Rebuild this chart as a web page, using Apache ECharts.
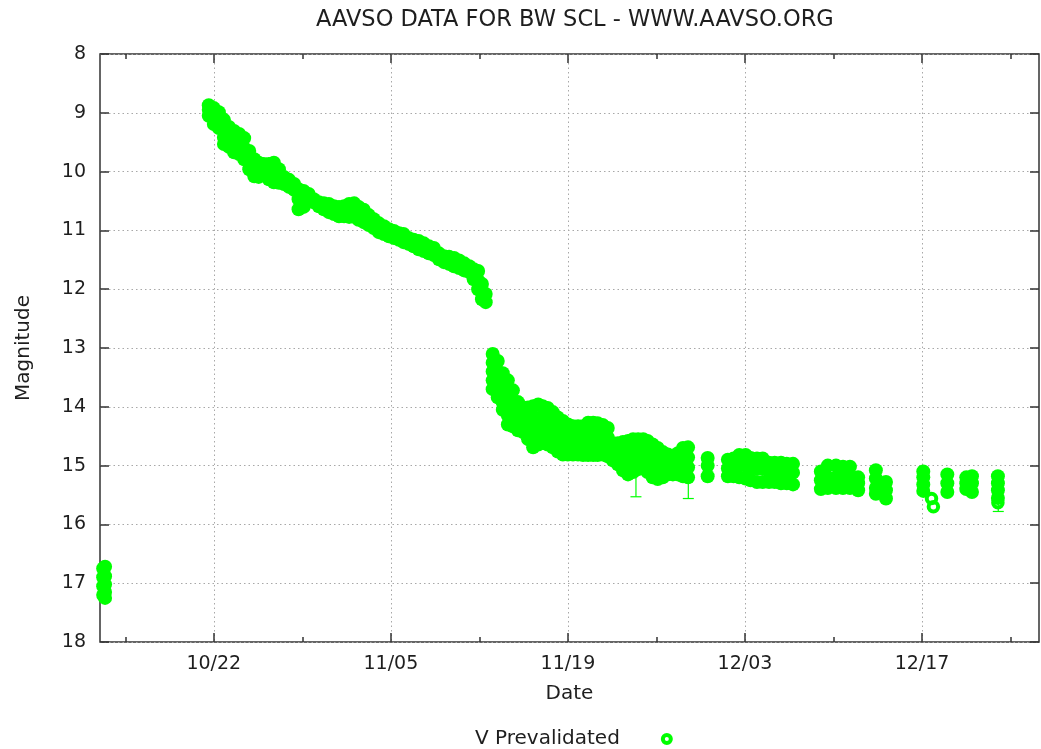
<!DOCTYPE html>
<html>
<head>
<meta charset="utf-8">
<script src="https://cdn.jsdelivr.net/npm/echarts@6/dist/echarts.min.js"></script>
<style>html,body{margin:0;padding:0;background:#fff}#c{width:1041px;height:749px}</style>
</head>
<body>
<div id="c"></div>
<script>
// x values are day numbers counted from Oct 0 (Oct 22 = 22, Nov 5 = 36, Dec 3 = 64 ...)
const tickDays = [22, 36, 50, 64, 78];
const tickLabels = ['10/22', '11/05', '11/19', '12/03', '12/17'];
const minorTickDays = [15, 29, 43, 57, 71, 85];
const dayMin = 13.0, dayMax = 87.25;
const magMin = 8, magMax = 18;

// each row: [day, mag, mag, ...] (observations of one time slice)
const quiescence = [
  [13.25, 16.75, 16.9, 17.05, 17.2],
  [13.4, 16.72, 16.88, 17.02, 17.15, 17.25]
];
const declineBand = [
  [21.6, 8.87, 8.95, 9.05], [22.0, 8.92, 9.05, 9.19], [22.4, 8.99, 9.12, 9.26],
  [22.8, 9.12, 9.28, 9.42, 9.53], [23.2, 9.24, 9.4, 9.58], [23.6, 9.31, 9.5, 9.67],
  [24.0, 9.36, 9.53, 9.70], [24.4, 9.43, 9.6, 9.79], [24.8, 9.65, 9.8, 9.96],
  [25.2, 9.79, 9.94, 10.08], [25.55, 9.85, 9.97, 10.09], [25.95, 9.87, 10.02],
  [26.35, 9.87, 10.0, 10.13], [26.75, 9.85, 10.0, 10.18], [27.15, 9.96, 10.08, 10.19],
  [27.55, 10.09, 10.21], [27.95, 10.14, 10.26], [28.35, 10.21, 10.31],
  [28.7, 10.30, 10.47, 10.64], [29.1, 10.33, 10.47, 10.60], [29.5, 10.38, 10.47],
  [29.9, 10.47, 10.52], [30.3, 10.52, 10.59], [30.7, 10.54, 10.64],
  [31.1, 10.55, 10.69], [31.5, 10.59, 10.72], [31.9, 10.60, 10.76],
  [32.3, 10.59, 10.68, 10.76], [32.7, 10.55, 10.66, 10.77], [33.1, 10.54, 10.66, 10.77],
  [33.45, 10.60, 10.71, 10.82], [33.85, 10.65, 10.75, 10.86], [34.25, 10.74, 10.91],
  [34.65, 10.81, 10.96], [35.05, 10.88, 11.03], [35.45, 10.93, 11.06],
  [35.85, 10.98, 11.10], [36.25, 11.01, 11.13], [36.65, 11.05, 11.16],
  [37.0, 11.06, 11.20], [37.4, 11.13, 11.23], [37.8, 11.16, 11.27],
  [38.2, 11.18, 11.32], [38.6, 11.22, 11.35], [39.0, 11.27, 11.39],
  [39.4, 11.30, 11.42], [39.8, 11.39, 11.49], [40.2, 11.44, 11.54],
  [40.6, 11.45, 11.57], [41.0, 11.47, 11.61], [41.4, 11.51, 11.64],
  [41.8, 11.56, 11.68], [42.2, 11.61, 11.71], [42.55, 11.66, 11.83],
  [42.9, 11.69, 11.85, 12.00], [43.2, 11.91, 12.05, 12.17], [43.5, 12.08, 12.22]
];
const postDropBand = [
  [44.05, 13.10, 13.25, 13.40, 13.55, 13.70], [44.45, 13.22, 13.4, 13.6, 13.72, 13.84],
  [44.85, 13.43, 13.6, 13.8, 13.93, 14.05], [45.25, 13.55, 13.75, 13.95, 14.15, 14.30],
  [45.65, 13.72, 13.9, 14.1, 14.22, 14.33], [46.05, 13.92, 14.1, 14.25, 14.40],
  [46.45, 14.01, 14.2, 14.32, 14.43], [46.85, 14.01, 14.2, 14.38, 14.55],
  [47.25, 13.99, 14.17, 14.35, 14.52, 14.69], [47.65, 13.96, 14.2, 14.4, 14.52, 14.64],
  [48.0, 13.99, 14.2, 14.4, 14.58], [48.4, 14.02, 14.13, 14.25, 14.45, 14.64],
  [48.8, 14.09, 14.3, 14.5, 14.69], [49.2, 14.18, 14.4, 14.6, 14.76],
  [49.6, 14.24, 14.45, 14.65, 14.81], [50.0, 14.30, 14.5, 14.65, 14.81],
  [50.4, 14.33, 14.5, 14.66, 14.81], [50.8, 14.33, 14.5, 14.66, 14.81],
  [51.2, 14.33, 14.5, 14.66, 14.82], [51.6, 14.27, 14.45, 14.64, 14.82],
  [52.0, 14.27, 14.45, 14.64, 14.82], [52.35, 14.28, 14.46, 14.64, 14.82],
  [52.75, 14.31, 14.48, 14.65, 14.81], [53.15, 14.36, 14.52, 14.68, 14.84],
  [53.55, 14.62, 14.77, 14.91], [53.95, 14.62, 14.8, 14.98],
  [54.35, 14.60, 14.76, 14.92, 15.08], [54.75, 14.58, 14.77, 14.96, 15.15],
  [55.15, 14.55, 14.74, 14.93, 15.11], [55.55, 14.55, 14.72, 14.89, 15.06],
  [55.95, 14.55, 14.71, 14.87, 15.03], [56.3, 14.58, 14.76, 14.94, 15.11],
  [56.7, 14.64, 14.83, 15.01, 15.20], [57.1, 14.70, 14.88, 15.06, 15.23],
  [57.5, 14.77, 14.92, 15.06, 15.20], [57.9, 14.81, 14.98, 15.15],
  [58.3, 14.84, 15.0, 15.15], [58.7, 14.79, 14.97, 15.15],
  [59.1, 14.70, 14.86, 15.02, 15.18], [59.5, 14.69, 14.86, 15.03, 15.20]
];
const tailNights = [
  [61.05, 14.87, 15.0, 15.18],
  [62.65, 14.90, 15.05, 15.18], [63.1, 14.88, 15.05, 15.18], [63.55, 14.82, 15.0, 15.2],
  [64.05, 14.82, 15.0, 15.22], [64.45, 14.87, 15.05, 15.25], [64.95, 14.88, 15.05, 15.28],
  [65.4, 14.88, 15.05, 15.28], [65.9, 14.95, 15.1, 15.28], [66.35, 14.95, 15.1, 15.28],
  [66.85, 14.95, 15.1, 15.3], [67.3, 14.97, 15.1, 15.3], [67.8, 14.97, 15.12, 15.32],
  [70.0, 15.1, 15.25, 15.40], [70.55, 15.0, 15.2, 15.38], [71.2, 15.0, 15.2, 15.38],
  [71.75, 15.02, 15.2, 15.38], [72.3, 15.02, 15.2, 15.38], [72.95, 15.2, 15.3, 15.42],
  [74.35, 15.08, 15.22, 15.38, 15.48], [75.15, 15.28, 15.42, 15.56],
  [78.1, 15.1, 15.2, 15.32, 15.43],
  [80.0, 15.15, 15.3, 15.45],
  [81.5, 15.2, 15.3, 15.4], [81.95, 15.18, 15.3, 15.45],
  [84.0, 15.18, 15.3, 15.42, 15.55]
];
// single, isolated observations (drawn as open rings)
const isolatedObs = [
  [78.75, 15.56], [78.9, 15.70], [84.0, 15.63]
];
// [day, mag at point, mag at lower end of error bar]
const errorBars = [
  [55.38, 15.0, 15.53],
  [59.52, 15.1, 15.56],
  [84.03, 15.62, 15.78]
];

const points = [];
[quiescence, declineBand, postDropBand, tailNights].forEach(group => {
  group.forEach(row => {
    for (let i = 1; i < row.length; i++) points.push([row[0], row[i]]);
  });
});

const FONT = 'DejaVu Sans';
const TXT = '#1e1e1e';
const AX = '#333';
const GREEN = '#00ff00';
const gridLine = { show: true, lineStyle: { color: '#a8a8a8', width: 1, type: [1.5, 3] } };

function xAxisBase(position, ticks, len, withLabels) {
  return {
    type: 'value', min: dayMin, max: dayMax, position: position, gridIndex: 0,
    axisLine: { show: false },
    axisTick: { show: true, inside: true, length: len, customValues: ticks, lineStyle: { color: AX, width: 1.5 } },
    axisLabel: withLabels ? {
      show: true, customValues: ticks, margin: 13,
      fontFamily: FONT, fontSize: 19, color: TXT,
      formatter: v => { const i = tickDays.indexOf(v); return i >= 0 ? tickLabels[i] : ''; }
    } : { show: false },
    splitLine: withLabels ? gridLine : { show: false }
  };
}

const chart = echarts.init(document.getElementById('c'), null, { renderer: 'canvas' });
chart.setOption({
  animation: false,
  backgroundColor: '#fff',
  title: {
    text: 'AAVSO DATA FOR BW SCL - WWW.AAVSO.ORG',
    left: 311, top: 4,
    textStyle: { fontFamily: FONT, fontSize: 22.5, fontWeight: 'normal', color: TXT }
  },
  legend: {
    data: ['V Prevalidated'],
    left: 470, top: 724,
    align: 'right',
    itemWidth: 84, itemHeight: 8,
    itemStyle: { color: 'rgba(0,255,0,0)', borderColor: GREEN, borderWidth: 4 },
    textStyle: { fontFamily: FONT, fontSize: 20, color: TXT }
  },
  grid: {
    left: 100, right: 2, top: 54, bottom: 107,
    show: true, borderColor: AX, borderWidth: 1.5, backgroundColor: 'transparent'
  },
  xAxis: [
    Object.assign(xAxisBase('bottom', tickDays, 9, true), {
      name: 'Date', nameLocation: 'middle', nameGap: 42,
      nameTextStyle: { fontFamily: FONT, fontSize: 20, color: TXT }
    }),
    xAxisBase('bottom', minorTickDays, 5, false),
    xAxisBase('top', tickDays, 9, false),
    xAxisBase('top', minorTickDays, 5, false)
  ],
  yAxis: [
    {
      type: 'value', min: magMin, max: magMax, interval: 1, inverse: true, position: 'left',
      name: 'Magnitude', nameLocation: 'middle', nameGap: 66,
      nameTextStyle: { fontFamily: FONT, fontSize: 20, color: TXT },
      axisLine: { show: false },
      axisTick: { show: true, inside: true, length: 9, lineStyle: { color: AX, width: 1.5 } },
      axisLabel: { margin: 14, fontFamily: FONT, fontSize: 19, color: TXT },
      splitLine: gridLine
    },
    {
      type: 'value', min: magMin, max: magMax, interval: 1, inverse: true, position: 'right',
      axisLine: { show: false },
      axisTick: { show: true, inside: true, length: 9, lineStyle: { color: AX, width: 1.5 } },
      axisLabel: { show: false },
      splitLine: { show: false }
    }
  ],
  series: [
    {
      name: 'V Prevalidated', type: 'scatter', xAxisIndex: 0, yAxisIndex: 0,
      symbol: 'circle', symbolSize: 14,
      itemStyle: { color: GREEN, opacity: 1 },
      data: points, z: 3
    },
    {
      name: 'V Prevalidated', type: 'scatter', xAxisIndex: 0, yAxisIndex: 0,
      symbol: 'circle', symbolSize: 9.5,
      itemStyle: { color: 'rgba(0,255,0,0)', borderColor: GREEN, borderWidth: 4, opacity: 1 },
      data: isolatedObs, z: 3
    },
    {
      name: 'errors', type: 'custom', xAxisIndex: 0, yAxisIndex: 0, z: 2,
      data: errorBars,
      encode: { x: 0, y: [1, 2] },
      renderItem: function (params, api) {
        const x = api.value(0), a = api.value(1), b = api.value(2);
        const p1 = api.coord([x, a]), p2 = api.coord([x, b]);
        return {
          type: 'group', children: [
            { type: 'line', shape: { x1: p1[0], y1: p1[1], x2: p2[0], y2: p2[1] }, style: { stroke: GREEN, lineWidth: 1.2 } },
            { type: 'line', shape: { x1: p2[0] - 5.5, y1: p2[1], x2: p2[0] + 5.5, y2: p2[1] }, style: { stroke: GREEN, lineWidth: 1.2 } }
          ]
        };
      }
    }
  ]
});
</script>
</body>
</html>
